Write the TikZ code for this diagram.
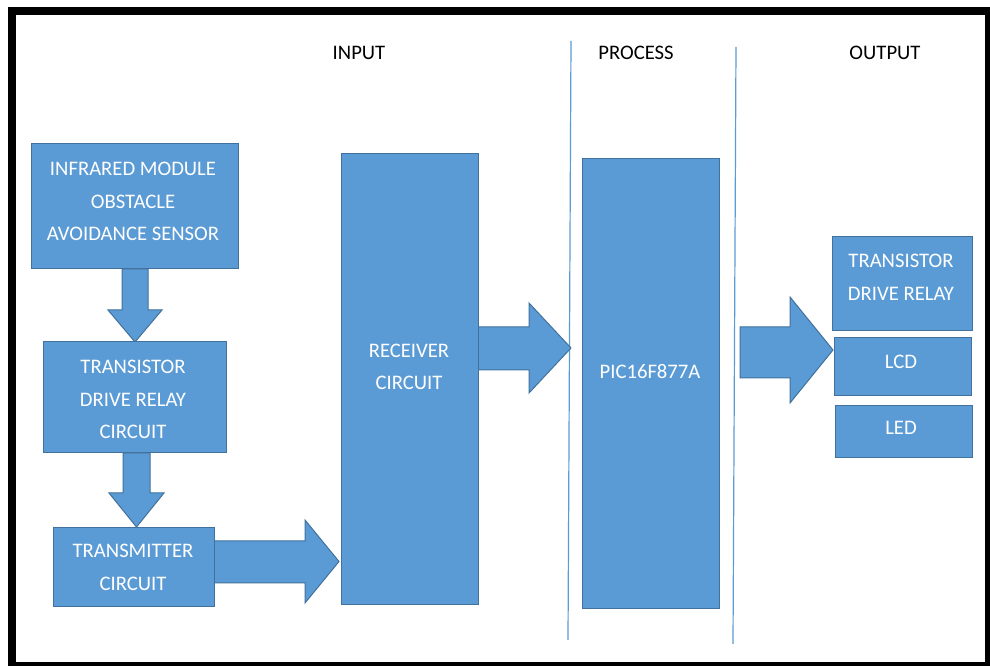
\documentclass[tikz,border=0pt]{standalone}
\usepackage{fontspec}
\setmainfont{Carlito}
\usetikzlibrary{fit}
\definecolor{boxfill}{HTML}{5B9BD5}
\definecolor{boxline}{HTML}{41719C}
\begin{document}
\begin{tikzpicture}[x=0.75pt,y=-0.75pt,
  box/.style={draw=boxline, fill=boxfill, line width=0.75pt, inner sep=0pt},
  lbl/.style={text=white, font=\fontsize{15.5}{24.4}\selectfont, align=center, inner sep=0pt},
  hdr/.style={text=black, font=\fontsize{15.5}{18}\selectfont, inner sep=0pt},
  barrow/.style={draw=boxline, fill=boxfill, line width=0.75pt, line join=miter},
  divider/.style={draw=boxfill, line width=0.9pt}]
\clip (0,0) rectangle (990,666);
\fill[white] (0,0) rectangle (990,666);
\draw[line width=6pt] (12,11) rectangle (989,666);

% headers
\node[hdr] (hin) at (359,53) {INPUT};
\node[hdr] (hproc) at (636,53) {PROCESS};
\node[hdr] (hout) at (885,53) {OUTPUT};

% dividers
\draw[divider] (571,41) -- (568,640);
\draw[divider] (736,47) -- (733,644);

% block arrows
\draw[barrow] (122,269) -- (122,310) -- (108,310) -- (135,342) -- (162,310) -- (148,310) -- (148,269) -- cycle;
\draw[barrow] (123,453) -- (123,493) -- (109,493) -- (136.5,527) -- (164,493) -- (150,493) -- (150,453) -- cycle;
\draw[barrow] (214,541) -- (305,541) -- (305,520) -- (339,561.5) -- (305,603) -- (305,583) -- (214,583) -- cycle;
\draw[barrow] (478,327) -- (529,327) -- (529,303) -- (571,348) -- (529,393) -- (529,370) -- (478,370) -- cycle;
\draw[barrow] (740,327) -- (790,327) -- (790,297) -- (833,350) -- (790,403) -- (790,378) -- (740,378) -- cycle;

% boxes
\node[box, fit={(31,144) (238,269)}] (infra) {};
\node[box, fit={(43,342) (226,453)}] (trans) {};
\node[box, fit={(53,528) (214,607)}] (txm) {};
\node[box, fit={(341,154) (478,605)}] (recv) {};
\node[box, fit={(582,159) (719,609)}] (pic) {};
\node[box, fit={(832,237) (972,331)}] (relay) {};
\node[box, fit={(834,338) (971,396)}] (lcd) {};
\node[box, fit={(835,406) (972,458)}] (led) {};

% labels
\node[lbl] (infraT) at (133,201.5) {INFRARED MODULE\\OBSTACLE\\AVOIDANCE SENSOR};
\node[lbl] (transT) at (133,399.5) {TRANSISTOR\\DRIVE RELAY\\CIRCUIT};
\node[lbl] (txmT) at (133,567.5) {TRANSMITTER\\CIRCUIT};
\node[lbl] (recvT) at (409,367) {RECEIVER\\CIRCUIT};
\node[lbl] (picT) at (650,372) {PIC16F877A};
\node[lbl] (relayT) at (901,277.5) {TRANSISTOR\\DRIVE RELAY};
\node[lbl] (lcdT) at (901,362) {LCD};
\node[lbl] (ledT) at (901,428) {LED};
\end{tikzpicture}
\end{document}
